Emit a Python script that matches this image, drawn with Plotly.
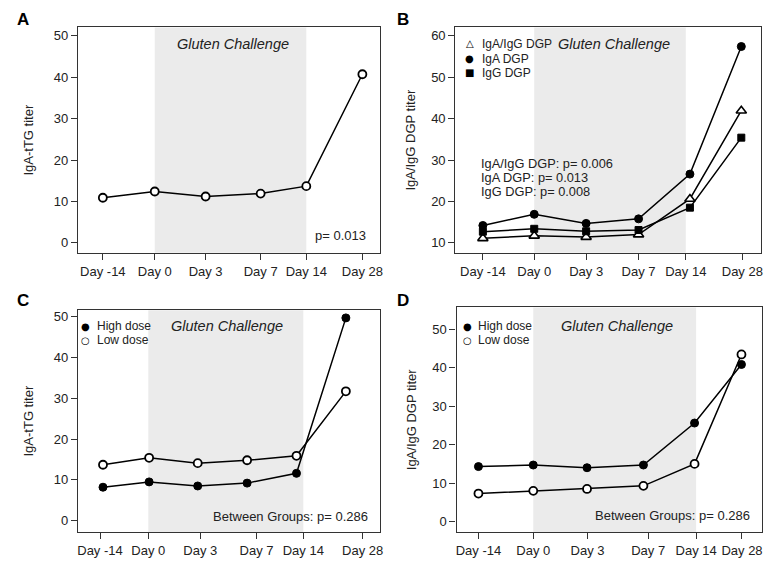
import plotly.graph_objects as go

FONT = "Liberation Sans, Arial, sans-serif"
SYMF = "DejaVu Sans, sans-serif"
day_labels = ["Day -14", "Day 0", "Day 3", "Day 7", "Day 14", "Day 28"]

# Panel A
a_ticks = [0, 1.0, 1.98, 3.04, 3.92, 5.0]
a_pts = [0, 1.0, 1.98, 3.04, 3.92, 5.0]
a_iga_ttg = [10.9, 12.4, 11.2, 11.9, 13.7, 40.7]

# Panel B
b_ticks = [0, 0.99, 1.99, 3.0, 3.91, 5.0]
b_pts = [0, 0.99, 1.99, 3.0, 3.99, 4.98]
b_iga_igg = [11.1, 11.7, 11.4, 12.0, 20.6, 41.9]
b_iga = [14.2, 16.9, 14.7, 15.8, 26.6, 57.4]
b_igg = [12.7, 13.4, 12.8, 13.1, 18.5, 35.4]

# Panel C
c_ticks = [0, 0.92, 1.91, 2.98, 3.87, 5.0]
c_pts = [0.057, 0.935, 1.86, 2.80, 3.74, 4.68]
c_high = [8.2, 9.5, 8.5, 9.2, 11.6, 49.7]
c_low = [13.7, 15.4, 14.1, 14.8, 15.9, 31.7]

# Panel D
d_ticks = [0, 1.04, 2.07, 3.22, 4.13, 5.0]
d_pts = [0, 1.04, 2.06, 3.13, 4.10, 4.99]
d_high = [14.3, 14.7, 14.0, 14.7, 25.6, 40.8]
d_low = [7.3, 8.0, 8.5, 9.3, 15.0, 43.4]

b_legend = [("\u25b3", "IgA/IgG DGP"), ("\u25cf", "IgA DGP"), ("\u25a0", "IgG DGP")]
dose_legend = [("\u25cf", "High dose"), ("\u25cb", "Low dose")]
b_pvals = ["IgA/IgG DGP: p= 0.006", "IgA DGP: p= 0.013", "IgG DGP: p= 0.008"]

fig = go.Figure()

LINE = dict(color="black", width=1.5)
OPEN = dict(symbol="circle", size=8, color="white", line=dict(color="black", width=1.8))
FILLED = dict(symbol="circle", size=8, color="black", line=dict(color="black", width=1))
TRI_F = dict(symbol="triangle-up", size=9, color="white", line=dict(color="black", width=1.6))
SQ = dict(symbol="square", size=7, color="black", line=dict(color="black", width=1))


def add_line(x, y, xa, ya, marker):
    fig.add_trace(go.Scatter(x=x, y=y, mode="lines+markers", line=LINE, marker=marker,
                             xaxis=xa, yaxis=ya, showlegend=False, cliponaxis=False))

add_line(a_pts, a_iga_ttg, "x", "y", OPEN)
add_line(b_pts, b_iga, "x2", "y2", FILLED)
add_line(b_pts, b_iga_igg, "x2", "y2", TRI_F)
add_line(b_pts, b_igg, "x2", "y2", SQ)
add_line(c_pts, c_high, "x3", "y3", FILLED)
add_line(c_pts, c_low, "x3", "y3", OPEN)
add_line(d_pts, d_high, "x4", "y4", FILLED)
add_line(d_pts, d_low, "x4", "y4", OPEN)

AXC = "#333333"
TICKF = dict(family=FONT, size=13, color="#222222")


def xaxis(dom, ticks, rng, anchor):
    return dict(domain=dom, range=rng, tickvals=ticks, ticktext=day_labels, showgrid=False,
                zeroline=False, showline=True, mirror=True, linecolor=AXC, linewidth=1.3,
                ticks="outside", ticklen=6, tickcolor=AXC, tickwidth=1.2, tickfont=TICKF,
                anchor=anchor, fixedrange=True)


def yaxis(dom, rng, dtick, tick0, title, anchor, standoff):
    return dict(domain=dom, range=rng, dtick=dtick, tick0=tick0, showgrid=False, zeroline=False,
                showline=True, mirror=True, linecolor=AXC, linewidth=1.3, ticks="outside",
                ticklen=6, tickcolor=AXC, tickwidth=1.2, tickfont=TICKF,
                title=dict(text=title, font=dict(family=FONT, size=13, color="#222"), standoff=standoff),
                anchor=anchor, fixedrange=True)

xA = [0.1007, 0.4961]
xB = [0.5947, 0.9948]
xC = [0.1007, 0.4961]
xD = [0.5963, 0.9961]
yTop = [0.5527, 0.9530]
yC = [0.0567, 0.4509]
yD = [0.0567, 0.4557]

fig.update_layout(
    width=768, height=564, margin=dict(l=0, r=0, t=0, b=0),
    paper_bgcolor="white", plot_bgcolor="white", showlegend=False,
    font=dict(family=FONT, size=12, color="#222"),
    xaxis=xaxis(xA, a_ticks, [-0.48, 5.34], "y"),
    yaxis=yaxis(yTop, [-2.4, 52.0], 10, 0, "IgA-tTG titer", "x", 17),
    xaxis2=xaxis(xB, b_ticks, [-0.53, 5.36], "y2"),
    yaxis2=yaxis(yTop, [7.6, 62.0], 10, 10, "IgA/IgG DGP titer", "x2", 12),
    xaxis3=xaxis(xC, c_ticks, [-0.42, 5.33], "y3"),
    yaxis3=yaxis(yC, [-2.8, 51.6], 10, 0, "IgA-tTG titer", "x3", 17),
    xaxis4=xaxis(xD, d_ticks, [-0.415, 5.38], "y4"),
    yaxis4=yaxis(yD, [-2.7, 55.6], 10, 0, "IgA/IgG DGP titer", "x4", 12),
)

# shading for gluten challenge (Day 0 to Day 14)
for xr, yr, t, gx, gy in [("x", "y", a_ticks, 0.3034, 0.9238), ("x2", "y2", b_ticks, 0.8021, 0.9238),
                          ("x3", "y3", c_ticks, 0.2956, 0.422), ("x4", "y4", d_ticks, 0.8066, 0.422)]:
    fig.add_shape(type="rect", xref=xr, yref=yr + " domain", x0=t[1], x1=t[4], y0=0, y1=1,
                  fillcolor="#ebebeb", line=dict(width=0), layer="below")
    fig.add_annotation(xref="paper", yref="paper", x=gx, y=gy,
                       text="<i>Gluten Challenge</i>", showarrow=False,
                       xanchor="center", yanchor="middle",
                       font=dict(family=FONT, size=14.5, color="#222"))

# panel letters
for letter, px, py in [("A", 0.0182, 0.968), ("B", 0.516, 0.968), ("C", 0.0182, 0.468), ("D", 0.516, 0.468)]:
    fig.add_annotation(xref="paper", yref="paper", x=px, y=py, text="<b>" + letter + "</b>",
                       showarrow=False, xanchor="left", yanchor="middle",
                       font=dict(family=FONT, size=17, color="black"))

PF = dict(family=FONT, size=13, color="#222")
fig.add_annotation(xref="paper", yref="paper", x=0.4805, y=0.5833, text="p= 0.013",
                   showarrow=False, xanchor="right", yanchor="middle", font=PF)
for i, txt in enumerate(b_pvals):
    fig.add_annotation(xref="paper", yref="paper", x=0.6263, y=0.711 - i * 0.0245, text=txt,
                       showarrow=False, xanchor="left", yanchor="middle",
                       font=dict(family=FONT, size=12.8, color="#222"))
fig.add_annotation(xref="paper", yref="paper", x=0.4827, y=0.0851, text="Between Groups: p= 0.286",
                   showarrow=False, xanchor="right", yanchor="middle", font=PF)
fig.add_annotation(xref="paper", yref="paper", x=0.9827, y=0.0869, text="Between Groups: p= 0.286",
                   showarrow=False, xanchor="right", yanchor="middle", font=PF)

# legends (symbol + label)
LF = dict(family=FONT, size=12, color="#222")
SF = dict(family=SYMF, size=10, color="black")
b_rows = [0.9238, 0.8972, 0.8723]
for (sym, lab), ry in zip(b_legend, b_rows):
    fig.add_annotation(xref="paper", yref="paper", x=0.6133, y=ry, text=sym, showarrow=False,
                       xanchor="center", yanchor="middle", font=SF)
    fig.add_annotation(xref="paper", yref="paper", x=0.6276, y=ry, text=lab, showarrow=False,
                       xanchor="left", yanchor="middle", font=LF)
dose_rows = [0.422, 0.3972]
for sx, tx in [(0.1107, 0.1224), (0.6107, 0.6211)]:
    for (sym, lab), ry in zip(dose_legend, dose_rows):
        fig.add_annotation(xref="paper", yref="paper", x=sx, y=ry, text=sym, showarrow=False,
                           xanchor="center", yanchor="middle", font=SF)
        fig.add_annotation(xref="paper", yref="paper", x=tx, y=ry, text=lab, showarrow=False,
                           xanchor="left", yanchor="middle", font=LF)

fig.write_html("out.html", config={"displayModeBar": False},
               post_script="document.body.style.margin='0';document.body.style.overflow='hidden';")
